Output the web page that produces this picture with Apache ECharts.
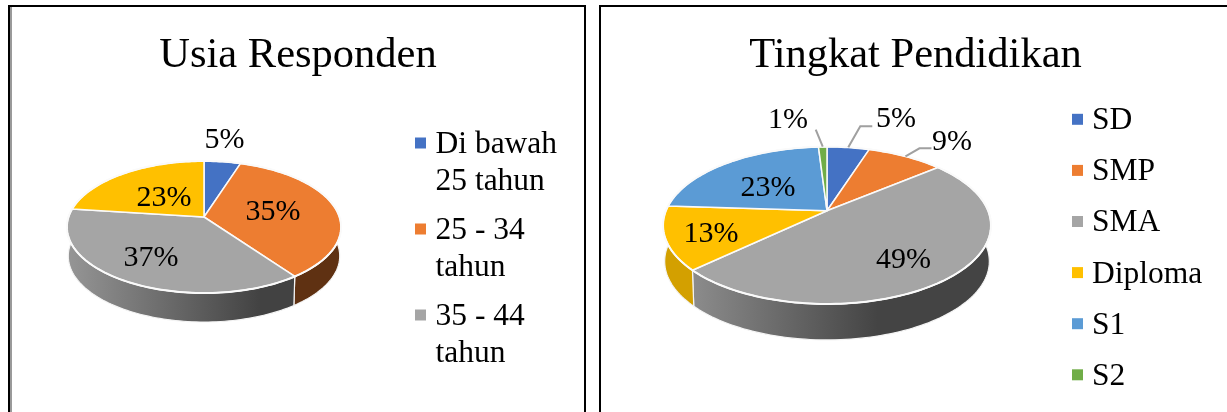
<!DOCTYPE html>
<html>
<head>
<meta charset="utf-8">
<title>Usia Responden dan Tingkat Pendidikan</title>
<style>
html,body{margin:0;padding:0;background:#fff;}
#chart{width:1227px;height:412px;}
</style>
<script src="https://cdn.jsdelivr.net/npm/echarts@6/dist/echarts.min.js"></script>
</head>
<body>
<div id="chart"></div>
<script>
var ageCategories = ['Di bawah 25 tahun','25 - 34 tahun','35 - 44 tahun','Di atas 44 tahun'];
var ageLegendText = ['Di bawah\n25 tahun','25 - 34\ntahun','35 - 44\ntahun'];
var ageValues = [5,35,37,23];

var eduCategories = ['SD','SMP','SMA','Diploma','S1','S2'];
var eduValues = [5,9,49,13,23,1];

var FONT = '"Liberation Serif","Times New Roman",serif';

// ---warna atas dan warna dinding tiap irisan
var GREY_LEFT = [[0,'#969696'],[0.85,'#424242'],[1,'#424242']];
var GREY_RIGHT = [[0,'#8c8c8c'],[0.62,'#444444'],[1,'#444444']];
var ageColors = ['#4472C4','#ED7D31','#A5A5A5','#FFC000'];
var ageWalls = ['#2f4f88','#5f3112',GREY_LEFT,'#d09f00'];
var eduColors = ['#4472C4','#ED7D31','#A5A5A5','#FFC000','#5B9BD5','#70AD47'];
var eduWalls = ['#2f4f88','#a5561f',GREY_RIGHT,'#d3a000','#3f6c95','#4e7831'];

// ---geometri pie: proyeksi perspektif lingkaran, k = kekuatan perspektif
var ageGeom = {cx:204,cy:217,a:135.5,b:64.5,k:0.1515,depth:29};
var eduGeom = {cx:827,cy:210.7,a:161.1,b:75.9,k:0.186,depth:36};

// ---posisi label relatif ke pusat pie, leader relatif ke titik tepi irisan
var ageLabelOffset = [[20.5,-77],[69,-5],[-53,41],[-40,-19]];
var ageLeaders = [null,null,null,null];
var eduLabelOffset = [[69,-92],[125,-69],[76.6,49],[-116,23],[-59,-23],[-39,-90.7]];
var eduLeaders = [[[12,-21],[24,-21]],[[14,-8],[26,-8]],null,null,null,[[-7,-17]]];

function project(g, frac, lower){
    var t = frac * Math.PI * 2;
    var X = Math.sin(t), Y = -Math.cos(t);
    var w = 1 - g.k * Y;
    var sx = g.a * X / w;
    var sy = g.b * Y / w;
    if(lower){
        return [g.cx + sx * 0.99, g.cy + sy + g.depth];
    }
    return [g.cx + sx, g.cy + sy];
}

function buildSeries(names, values, colors, walls, g, offsets, leaders){
    var total = values.reduce(function(s,v){return s+v;},0);
    var start = 0;
    return values.map(function(v,i){
        var from = start / total;
        start += v;
        var to = start / total;
        return {
            type:'custom',
            name:names[i],
            coordinateSystem:'none',
            silent:true,
            itemStyle:{color:colors[i]},
            data:[[v]],
            renderItem:function(params, api){
                var val = api.value(0);
                var steps = Math.max(4, Math.ceil((to-from)*240));
                var rim = [], low = [], n;
                for(n=0;n<=steps;n++){
                    var f = from + (to-from)*n/steps;
                    rim.push(project(g,f,false));
                    low.unshift(project(g,f,true));
                }
                var wall = walls[i];
                var wallFill = typeof wall === 'string' ? wall :
                    new echarts.graphic.LinearGradient(0,0,1,0,wall.map(function(s){
                        return {offset:s[0],color:s[1]};
                    }));
                var children = [
                    {
                        type:'polygon',
                        z2:1,
                        shape:{points:rim.concat(low)},
                        style:{fill:wallFill,stroke:'#f4f4f4',lineWidth:1.2}
                    },
                    {
                        type:'polygon',
                        z2:10,
                        shape:{points:[[g.cx,g.cy]].concat(rim)},
                        style:{fill:colors[i],stroke:'#fafafa',lineWidth:1.5,lineJoin:'round'}
                    },
                    {
                        // ---garis putih di tepi depan irisan
                        type:'polyline',
                        z2:11,
                        shape:{points:rim},
                        style:{fill:null,stroke:'#fafafa',lineWidth:2}
                    },
                    {
                        type:'text',
                        z2:30,
                        x:g.cx + offsets[i][0],
                        y:g.cy + offsets[i][1],
                        style:{
                            text:val + '%',
                            fill:'#000',
                            font:'30px ' + FONT,
                            align:'center',
                            verticalAlign:'middle'
                        }
                    }
                ];
                if(leaders[i]){
                    var mid = project(g,(from+to)/2,false);
                    var pts = [mid].concat(leaders[i].map(function(o){
                        return [mid[0]+o[0],mid[1]+o[1]];
                    }));
                    children.push({
                        type:'polyline',
                        z2:20,
                        shape:{points:pts},
                        style:{fill:null,stroke:'#a0a0a0',lineWidth:2}
                    });
                }
                return {type:'group',children:children};
            }
        };
    });
}

function frameLine(x1,y1,x2,y2,color,width){
    return {
        type:'line',
        silent:true,
        shape:{x1:x1,y1:y1,x2:x2,y2:y2},
        style:{stroke:color,lineWidth:width}
    };
}

var myChart = echarts.init(document.getElementById('chart'), null, {renderer:'canvas'});
var shownAge = ageCategories.slice(0,3);

var option = {
    animation:false,
    backgroundColor:'#fff',
    title:[
        {
            text:'Usia Responden',
            left:298,
            top:34,
            padding:0,
            textAlign:'center',
            textStyle:{fontFamily:FONT,fontSize:42.5,fontWeight:'normal',color:'#000'}
        },
        {
            text:'Tingkat Pendidikan',
            left:915.5,
            top:34,
            padding:0,
            textAlign:'center',
            textStyle:{fontFamily:FONT,fontSize:42.5,fontWeight:'normal',color:'#000'}
        }
    ],
    legend:[
        {
            orient:'vertical',
            left:415,
            top:126.5,
            padding:0,
            selectedMode:false,
            itemWidth:15.5,
            itemHeight:73,
            itemGap:13,
            icon:'path://M0 11H11V22H0Z M15.5 0L15.5 0 M15.5 73L15.5 73',
            data:shownAge,
            formatter:function(name){
                return ageLegendText[shownAge.indexOf(name)];
            },
            textStyle:{fontFamily:FONT,fontSize:31.5,lineHeight:36.5,color:'#000'}
        },
        {
            orient:'vertical',
            left:1072,
            top:105,
            padding:0,
            selectedMode:false,
            itemWidth:15,
            itemHeight:14.4,
            itemGap:19.1,
            icon:'path://M0 0H11V11H0Z M15 0L15 0 M15 14.4L15 14.4',
            data:eduCategories,
            textStyle:{fontFamily:FONT,fontSize:31.5,color:'#000'}
        }
    ],
    graphic:[
        frameLine(11,6,11,412,'#9a9a9a',2),
        frameLine(9,6,9,412,'#000',2),
        frameLine(8,6,586,6,'#000',2),
        frameLine(585,5,585,412,'#000',2),
        frameLine(600,5,600,412,'#000',2),
        frameLine(599,6,1227,6,'#000',2)
    ],
    series:buildSeries(ageCategories,ageValues,ageColors,ageWalls,ageGeom,ageLabelOffset,ageLeaders)
        .concat(buildSeries(eduCategories,eduValues,eduColors,eduWalls,eduGeom,eduLabelOffset,eduLeaders))
};

myChart.setOption(option);
</script>
</body>
</html>
